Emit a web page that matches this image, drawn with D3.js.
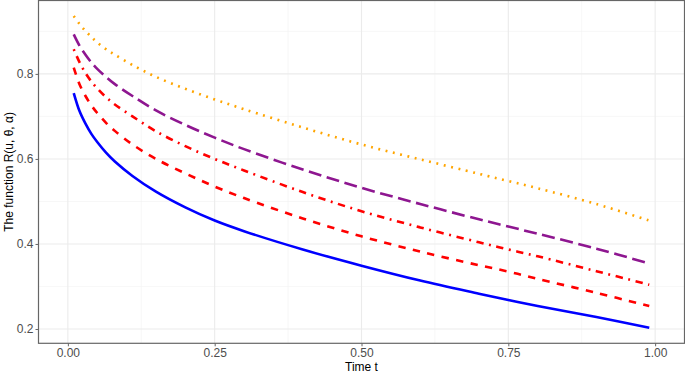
<!DOCTYPE html>
<html>
<head>
<meta charset="utf-8">
<script src="https://cdn.jsdelivr.net/npm/d3@7"></script>
<style>
  body { margin: 0; background: #fff; }
  svg { display: block; font-family: "Liberation Sans", Arial, sans-serif; }
</style>
</head>
<body>
<svg id="chart" width="685" height="373"></svg>
<script>
// time grid
var tValues = [0.01, 0.02, 0.03, 0.04, 0.05, 0.065, 0.08, 0.11, 0.15, 0.2, 0.25, 0.3, 0.4, 0.5, 0.6, 0.7, 0.75, 0.8, 0.9, 0.99]
// one list per curve, same order as tValues
var solidBlue   = [0.755, 0.712, 0.683, 0.659, 0.640, 0.615, 0.594, 0.560, 0.523, 0.486, 0.455, 0.430, 0.387, 0.349, 0.314, 0.283, 0.268, 0.254, 0.228, 0.203]
var dashedRed   = [0.815, 0.775, 0.748, 0.726, 0.708, 0.685, 0.666, 0.634, 0.600, 0.566, 0.535, 0.508, 0.460, 0.418, 0.382, 0.350, 0.335, 0.318, 0.285, 0.254]
var dotdashRed  = [0.858, 0.827, 0.802, 0.782, 0.766, 0.745, 0.728, 0.700, 0.665, 0.630, 0.600, 0.573, 0.522, 0.477, 0.439, 0.404, 0.387, 0.371, 0.336, 0.304]
var longdashPur = [0.893, 0.866, 0.845, 0.827, 0.812, 0.793, 0.776, 0.748, 0.714, 0.680, 0.650, 0.623, 0.575, 0.532, 0.494, 0.458, 0.441, 0.424, 0.389, 0.354]
var dottedOrg   = [0.936, 0.917, 0.901, 0.887, 0.874, 0.858, 0.845, 0.821, 0.793, 0.765, 0.740, 0.717, 0.674, 0.634, 0.599, 0.565, 0.548, 0.531, 0.494, 0.455]
var xTicks = [0, 0.25, 0.5, 0.75, 1]
var yTicks = [0.2, 0.4, 0.6, 0.8]

var series = [
  {vals: solidBlue, color: "#0000FF", dash: null},
  {vals: dashedRed, color: "#FF0000", dash: "7.4,7.4"},
  {vals: dotdashRed, color: "#FF0000", dash: "1.9,5.6,7.4,5.6"},
  {vals: longdashPur, color: "#8E1690", dash: "13,5.6"},
  {vals: dottedOrg, color: "#FFA500", dash: "1.9,5.6"}
]

var svg = d3.select("#chart")
var margin = {left: 38.5, right: 0.5, top: 0.5, bottom: 29.7}
var W = 685, H = 373
var x = d3.scaleLinear().domain([-0.05, 1.05]).range([margin.left, W - margin.right])
var allVals = d3.merge(series.map(s => s.vals))
var ext = d3.extent(allVals), pad = (ext[1] - ext[0]) * 0.05
var y = d3.scaleLinear().domain([ext[0] - pad, ext[1] + pad]).range([H - margin.bottom, margin.top])

var gridG = svg.append("g")
var xMinor = xTicks.slice(0, -1).map((d, i) => (d + xTicks[i + 1]) / 2)
var yMinor = [0.3, 0.5, 0.7, 0.9]
gridG.selectAll(".xmin").data(xMinor).join("line").attr("x1", d => x(d)).attr("x2", d => x(d))
  .attr("y1", y.range()[1]).attr("y2", y.range()[0]).attr("stroke", "#F1F1F1").attr("stroke-width", 0.6)
gridG.selectAll(".ymin").data(yMinor).join("line").attr("y1", d => y(d)).attr("y2", d => y(d))
  .attr("x1", x.range()[0]).attr("x2", x.range()[1]).attr("stroke", "#F1F1F1").attr("stroke-width", 0.6)
gridG.selectAll(".xmaj").data(xTicks).join("line").attr("x1", d => x(d)).attr("x2", d => x(d))
  .attr("y1", y.range()[1]).attr("y2", y.range()[0]).attr("stroke", "#EBEBEB").attr("stroke-width", 1.1)
gridG.selectAll(".ymaj").data(yTicks).join("line").attr("y1", d => y(d)).attr("y2", d => y(d))
  .attr("x1", x.range()[0]).attr("x2", x.range()[1]).attr("stroke", "#EBEBEB").attr("stroke-width", 1.1)

var line = d3.line().x(d => x(d[0])).y(d => y(d[1])).curve(d3.curveCatmullRom.alpha(0.5))
svg.append("g").selectAll("path").data(series).join("path")
  .attr("d", s => line(tValues.map((t, i) => [t, s.vals[i]])))
  .attr("fill", "none").attr("stroke", s => s.color).attr("stroke-width", 2.6)
  .attr("stroke-dasharray", s => s.dash)

// panel border
svg.append("rect").attr("x", x.range()[0]).attr("y", y.range()[1])
  .attr("width", x.range()[1] - x.range()[0]).attr("height", y.range()[0] - y.range()[1])
  .attr("fill", "none").attr("stroke", "#666666").attr("stroke-width", 1.2)

var xAxis = svg.append("g").attr("transform", "translate(0," + y.range()[0] + ")")
  .call(d3.axisBottom(x).tickValues(xTicks).tickFormat(d3.format(".2f")).tickSize(3).tickPadding(2))
var yAxis = svg.append("g").attr("transform", "translate(" + x.range()[0] + ",0)")
  .call(d3.axisLeft(y).tickValues(yTicks).tickFormat(d3.format(".1f")).tickSize(3).tickPadding(2))
;[xAxis, yAxis].forEach(a => {
  a.select(".domain").remove()
  a.selectAll("line").attr("stroke", "#666666").attr("stroke-width", 1)
  a.selectAll("text").attr("fill", "#4D4D4D").attr("font-size", 12).attr("font-family", "Liberation Sans, Arial, sans-serif")
})

svg.append("text").attr("x", (x.range()[0] + x.range()[1]) / 2).attr("y", 371)
  .attr("text-anchor", "middle").attr("font-size", 12).attr("fill", "#000").text("Time t")
svg.append("text").attr("transform", "translate(13," + ((y.range()[0] + y.range()[1]) / 2) + ") rotate(-90)")
  .attr("text-anchor", "middle").attr("font-size", 12).attr("fill", "#000").text("The function R(u, θ, α)")
</script>
</body>
</html>
